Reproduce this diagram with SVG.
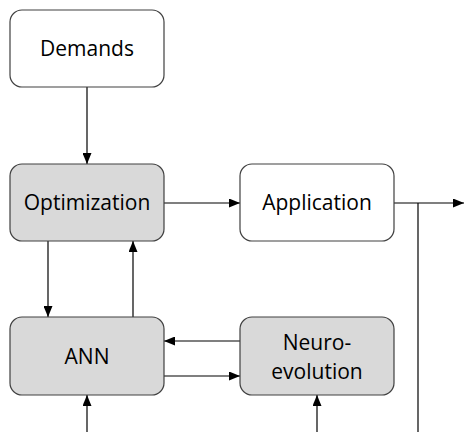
<svg xmlns="http://www.w3.org/2000/svg" width="464" height="432" viewBox="0 0 464 432">
<style>
.box{stroke:#404040;stroke-width:1.2}
.w{fill:#ffffff}
.g{fill:#d9d9d9}
.t{font-family:"Open Sans","Liberation Sans",sans-serif;font-size:21px;fill:#000;text-anchor:middle}
.c{stroke:#000;stroke-width:1.2;fill:none}
</style>
<defs>
<marker id="ah" viewBox="0 0 11 9" refX="11" refY="4.5" markerWidth="11" markerHeight="9" markerUnits="userSpaceOnUse" orient="auto">
<path d="M0,0 L11,4.5 L0,9 Z" fill="#000"/>
</marker>
</defs>
<rect width="464" height="432" fill="#fff"/>
<g id="connectors">
<line class="c" x1="87" y1="87" x2="87" y2="164" marker-end="url(#ah)"/>
<line class="c" x1="164" y1="203" x2="240" y2="203" marker-end="url(#ah)"/>
<line class="c" x1="394" y1="203" x2="464" y2="203" marker-end="url(#ah)"/>
<line class="c" x1="418" y1="203" x2="418" y2="432"/>
<line class="c" x1="48" y1="241" x2="48" y2="317" marker-end="url(#ah)"/>
<line class="c" x1="133" y1="317" x2="133" y2="241" marker-end="url(#ah)"/>
<line class="c" x1="240" y1="341" x2="164" y2="341" marker-end="url(#ah)"/>
<line class="c" x1="164" y1="376" x2="240" y2="376" marker-end="url(#ah)"/>
<line class="c" x1="87" y1="432" x2="87" y2="395" marker-end="url(#ah)"/>
<line class="c" x1="317" y1="432" x2="317" y2="395" marker-end="url(#ah)"/>
</g>
<g id="demands">
<rect class="box w" x="10" y="10" width="154" height="77" rx="12"/>
<text class="t" x="87" y="56">Demands</text>
</g>
<g id="optimization">
<rect class="box g" x="10" y="164" width="154" height="77" rx="12"/>
<text class="t" x="87" y="210">Optimization</text>
</g>
<g id="application">
<rect class="box w" x="240" y="164" width="154" height="77" rx="12"/>
<text class="t" x="317" y="210">Application</text>
</g>
<g id="ann">
<rect class="box g" x="10" y="317" width="154" height="78" rx="12"/>
<text class="t" x="87" y="364">ANN</text>
</g>
<g id="neuroevolution">
<rect class="box g" x="240" y="317" width="154" height="78" rx="12"/>
<text class="t" x="317" y="350">Neuro-</text>
<text class="t" x="317" y="379">evolution</text>
</g>
</svg>
